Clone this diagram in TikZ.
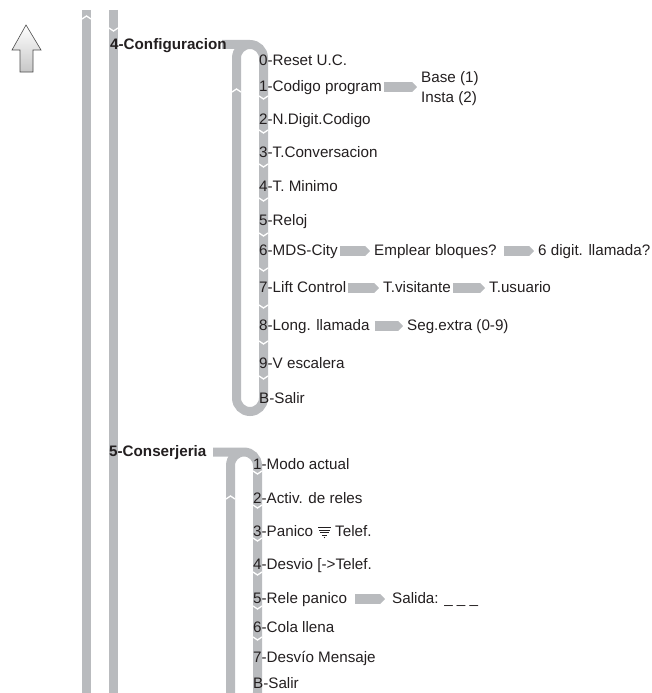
\documentclass[tikz,border=0pt]{standalone}
\usepackage{fontspec}
\setmainfont{Liberation Sans}
\usetikzlibrary{arrows.meta}

\definecolor{bargray}{HTML}{B9BBBE}
\definecolor{textgray}{HTML}{231F20}

\tikzset{
  menubar/.style={draw=bargray,line width=9pt},
  notchline/.style={draw=white,line width=1.3pt},
  rowlabel/.style={anchor=base west,inner sep=0pt,text height=11pt,text depth=3pt,
                   text=textgray,font=\fontsize{15.2}{18}\selectfont},
  headlabel/.style={rowlabel,font=\fontsize{15.2}{18}\selectfont\bfseries},
  nextstep/.style={draw=bargray,line width=9.5pt,shorten <=2pt,shorten >=4pt,
                   -{Triangle[length=5pt,width=10pt]}}
}

\begin{document}
\begin{tikzpicture}[x=1pt,y=-1pt]
      \useasboundingbox (0,0) rectangle (651,693);
      \clip (0,0) rectangle (651,693);

      % Up arrow
      \draw[draw=black!70,line width=0.6pt,top color=white,bottom color=black!22]
      (26,25) -- (41,50) -- (33,50) -- (33,72) -- (20,72) -- (20,50) -- (12,50) -- cycle;

      % Main bars
      \draw[menubar] (86.5,10) -- (86.5,693);
      \draw[menubar] (113.5,10) -- (113.5,693);

      % Bracket of menu 4
      \draw[menubar] (222,44.5) -- (250,44.5) arc[start angle=-90,end angle=0,radius=13.5]
      -- (263.5,398) arc[start angle=0,end angle=180,radius=13.5] -- (236.5,58)
      arc[start angle=180,end angle=270,radius=13.5];

      % Bracket of menu 5
      \draw[menubar] (213,452) -- (244,452) arc[start angle=-90,end angle=0,radius=13.5]
      -- (257.5,692.5) arc[start angle=0,end angle=180,radius=13.5] -- (230.5,465.5)
      arc[start angle=180,end angle=270,radius=13.5];

      % Notches
      \draw[notchline] (82,19) -- ++(4.5,-3) -- ++(4.5,3);
      \draw[notchline] (109,28) -- ++(4.5,3) -- ++(4.5,-3);
      \draw[notchline] (232,92) -- ++(4.5,-3) -- ++(4.5,3);
      \draw[notchline] (226,499) -- ++(4.5,-3) -- ++(4.5,3);
      \foreach \y in {96,130,164,198,233,268,305,341,376}
            \draw[notchline] (259,\y) -- ++(4.5,3) -- ++(4.5,-3);
      \foreach \y in {471,505,538,572,606,637}
            \draw[notchline] (253,\y) -- ++(4.5,3) -- ++(4.5,-3);

      % Menu 4
      \node[headlabel] (config) at (110,49) {4-Configuracion};
      \node[rowlabel] (reset) at (259,66) {0-Reset U.C.};
      \node[rowlabel] (codigo) at (259,91) {1-Codigo program};
      \node[rowlabel] (digit) at (259,124) {2-N.Digit.Codigo};
      \node[rowlabel] (convers) at (259,157) {3-T.Conversacion};
      \node[rowlabel] (minimo) at (259,191) {4-T. Minimo};
      \node[rowlabel] (reloj) at (259,225) {5-Reloj};
      \node[rowlabel] (city) at (259,255) {6-MDS-City};
      \node[rowlabel] (lift) at (259,292) {7-Lift Control};
      \node[rowlabel] (long) at (259,330) {8-Long. llamada};
      \node[rowlabel] (vesc) at (259,368) {9-V escalera};
      \node[rowlabel] (salir) at (259,403) {B-Salir};

      % Sub entries of menu 4
      \node[rowlabel] (base) at (421,82) {Base (1)};
      \node[rowlabel] (insta) at (421,102) {Insta (2)};
      \coordinate (baseinsta) at (421,87);
      \node[rowlabel] (bloques) at (374,255) {Emplear bloques?};
      \node[rowlabel] (llamada) at (538,255) {6 digit. llamada?};
      \node[rowlabel] (visit) at (383,292) {T.visitante};
      \node[rowlabel] (usuario) at (489,292) {T.usuario};
      \node[rowlabel] (extra) at (407,330) {Seg.extra (0-9)};

      % Menu 5
      \node[headlabel] (consj) at (109,456) {5-Conserjeria};
      \node[rowlabel] (modo) at (253,469) {1-Modo actual};
      \node[rowlabel] (reles) at (253,503) {2-Activ. de reles};
      \node[rowlabel] (panico) at (253,536) {3-Panico};
      \node[rowlabel] (telef) at (335,536) {Telef.};
      \node[rowlabel] (desvio) at (253,569) {4-Desvio [->Telef.};
      \node[rowlabel] (rele) at (253,603) {5-Rele panico};
      \node[rowlabel] (salida) at (392,603) {Salida: \_ \_ \_};
      \node[rowlabel] (cola) at (253,632) {6-Cola llena};
      \node[rowlabel] (mensaje) at (253,662) {7-Desv\'{\i}o Mensaje};
      \node[rowlabel] (salirb) at (253,688) {B-Salir};

      % Panic sign
      \draw[textgray,line width=0.6pt] (318,527.5) -- (331,527.5) (319,530) -- (330,530)
      (320,532.5) -- (329,532.5) (322,535) -- (327,535);
      \fill[textgray] (324.5,537.5) circle (0.7);

      % Arrows between entries
      \draw[nextstep] (codigo) -- (baseinsta);
      \draw[nextstep] (city) -- (bloques);
      \draw[nextstep,shorten <=7pt] (bloques) -- (llamada);
      \draw[nextstep] (lift) -- (visit);
      \draw[nextstep] (visit) -- (usuario);
      \draw[nextstep,shorten <=5pt] (long) -- (extra);
      \draw[nextstep,shorten <=8pt,shorten >=7pt] (rele) -- (salida);
\end{tikzpicture}
\end{document}
